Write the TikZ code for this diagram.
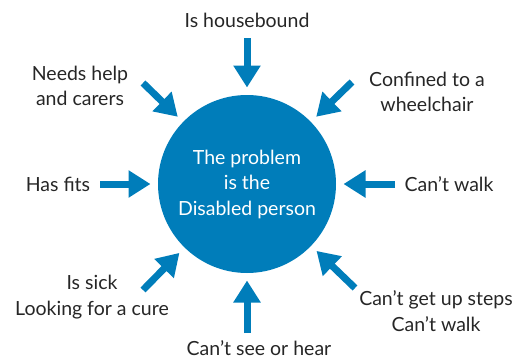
\documentclass[tikz,border=0pt]{standalone}
\usepackage{fontspec}
\setmainfont{Lato}
\usetikzlibrary{arrows.meta}
\definecolor{probblue}{RGB}{0,125,186}
\begin{document}
\begin{tikzpicture}[x=1pt, y=1pt, shorten >=4pt, line width=7pt, probblue,
  main node/.style={circle,fill=probblue,draw=none,minimum size=178pt,inner sep=0pt,text=white,align=center},
  label node/.style={text=black!85,align=center},
  push/.style={-{Triangle[width=26pt,length=22pt]}}]%arrows point in
\useasboundingbox (0,0) rectangle (517,360);
\begin{scope}[every node/.style={font=\fontsize{19.5}{25.5}\selectfont}]
\node[main node] (pb) at (247,176) {The problem\\is the\\Disabled person};
\node[label node] (l1) at (247,340) {Is housebound};
\node[label node] (l2) at (80,274) {Needs help\\and carers};
\node[label node] (l3) at (427,268) {Confined to a\\wheelchair};
\node[label node] (l4) at (58,176) {Has fits};
\node[label node] (l5) at (449,176) {Can’t walk};
\node[label node] (l6) at (92,63) {Is sick\\Looking for a cure};
\node[label node] (l7) at (436,49) {Can’t get up steps\\Can’t walk};
\node[label node] (l8) at (259,12) {Can’t see or hear};
\end{scope}
\coordinate (t1) at (247,322);
\coordinate (t2) at (143,277);
\coordinate (t3) at (352,278);
\coordinate (t4) at (100,176);
\coordinate (t5) at (395,176);
\coordinate (t6) at (143,70);
\coordinate (t7) at (355,72);
\coordinate (t8) at (247,27);
\begin{scope}
\draw[push] (t1) -- (pb);
\draw[push] (t2) -- (pb);
\draw[push] (t3) -- (pb);
\draw[push] (t4) -- (pb);
\draw[push] (t5) -- (pb);
\draw[push] (t6) -- (pb);
\draw[push] (t7) -- (pb);
\draw[push] (t8) -- (pb);
\end{scope}
\end{tikzpicture}
\end{document}
